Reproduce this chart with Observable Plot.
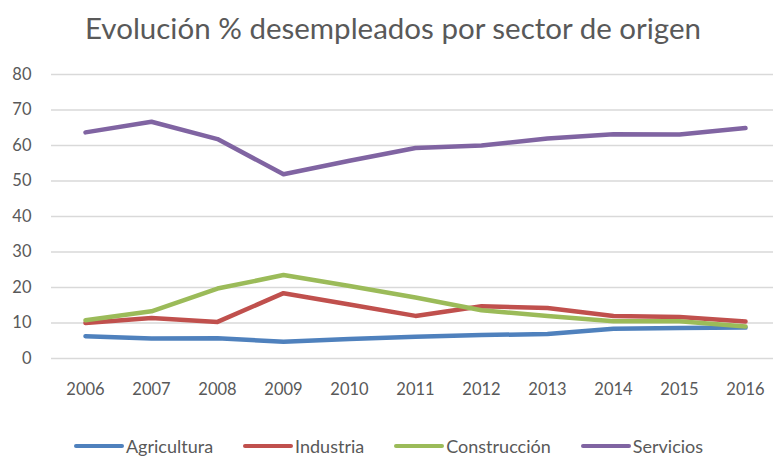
<!DOCTYPE html>
<html><head><meta charset="utf-8">
<script src="https://cdn.jsdelivr.net/npm/d3@7"></script>
<script src="https://cdn.jsdelivr.net/npm/@observablehq/plot@0.6"></script>
<style>
body{margin:0;background:#fff;font-family:Lato,sans-serif;color:#595959;width:773px;height:456px;overflow:hidden}
#title{box-sizing:border-box;width:773px;height:56px;line-height:56px;text-align:center;font-size:29.5px;padding-left:13px;white-space:nowrap}
#legend{box-sizing:border-box;width:773px;height:40px;padding-top:20px;padding-left:4px;display:flex;justify-content:center;align-items:center;gap:30px;font-size:18px;line-height:20px}
#legend .it{display:flex;align-items:center}
#legend .sw{display:inline-block;width:50px;height:4px;border-radius:2px;margin-right:2px}
</style></head>
<body>
<div id="title">Evolución % desempleados por sector de origen</div>
<div id="chart"></div>
<div id="legend"></div>
<script>
const years = ["2006","2007","2008","2009","2010","2011","2012","2013","2014","2015","2016"];
const seriesNames = ["Agricultura","Industria","Construcción","Servicios"];
const seriesColors = ["#4f81bd","#c0504d","#9bbb59","#8064a2"];
const agricultura = [6.3,5.6,5.7,4.7,5.5,6.1,6.6,6.9,8.4,8.6,8.7];
const industria = [10.0,11.4,10.3,18.4,15.2,12.0,14.7,14.2,12.0,11.7,10.4];
const construccion = [10.8,13.3,19.7,23.5,20.4,17.2,13.6,12.0,10.5,10.5,9.0];
const servicios = [63.7,66.7,61.8,51.9,55.7,59.3,60.0,62.0,63.2,63.1,64.9];
const yTicks = [0,10,20,30,40,50,60,70,80];

const seriesValues = [agricultura, industria, construccion, servicios];
const data = [];
seriesNames.forEach((s, i) => years.forEach((y, j) => data.push({series: s, year: y, value: seriesValues[i][j]})));

const chart = Plot.plot({
  width: 773, height: 360,
  marginLeft: 51, marginRight: 0, marginTop: 18, marginBottom: 58,
  style: {fontFamily: "Lato, sans-serif", fontSize: "16.5px", color: "#595959", background: "#fff"},
  x: {type: "point", domain: years, range: [51, 778], padding: 0.5, label: null},
  y: {domain: [0, 80], label: null},
  color: {domain: seriesNames, range: seriesColors},
  marks: [
    Plot.ruleY(yTicks, {stroke: "#d9d9d9", strokeWidth: 1.3}),
    Plot.axisY({ticks: yTicks, tickSize: 0, tickPadding: 20, label: null, fill: "#595959"}),
    Plot.axisX({tickSize: 0, tickPadding: 25, label: null, fill: "#595959"}),
    Plot.line(data, {x: "year", y: "value", z: "series", stroke: "series", strokeWidth: 4.5, strokeLinecap: "round", strokeLinejoin: "round"})
  ]
});
document.getElementById("chart").appendChild(chart);

const lg = document.getElementById("legend");
seriesNames.forEach((s, i) => {
  const it = document.createElement("div"); it.className = "it";
  const sw = document.createElement("span"); sw.className = "sw"; sw.style.background = seriesColors[i];
  it.appendChild(sw); it.appendChild(document.createTextNode(s)); lg.appendChild(it);
});
</script>
</body></html>
